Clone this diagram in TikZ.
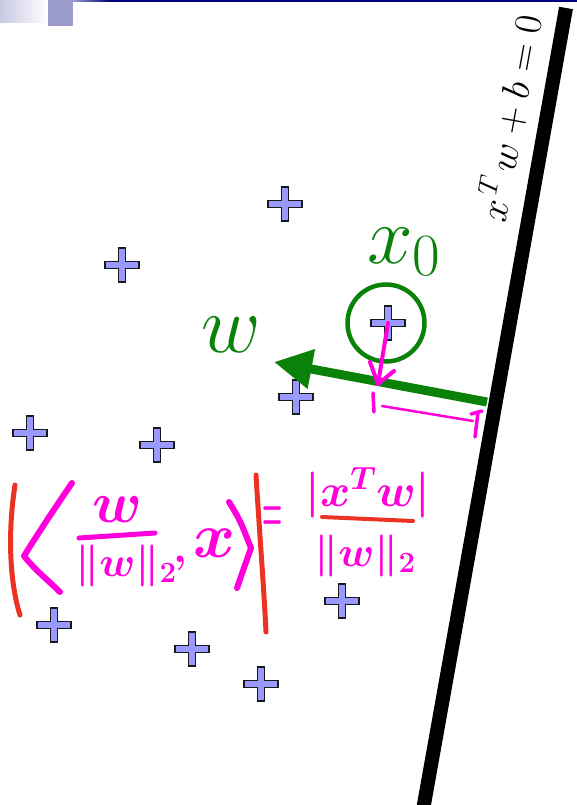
\RequirePackage{fix-cm}
\documentclass[tikz,border=0pt]{standalone}
\usepackage{graphicx}
\usetikzlibrary{arrows.meta}

\definecolor{markgreen}{RGB}{10,130,10}
\definecolor{inkpink}{RGB}{255,0,220}
\definecolor{inkred}{RGB}{236,50,35}
\definecolor{crossfill}{RGB}{153,153,255}
\definecolor{crossedge}{RGB}{25,25,25}
\definecolor{slidesq}{RGB}{156,156,204}
\definecolor{slidefade}{RGB}{200,200,226}
\definecolor{slidenavy}{RGB}{0,0,128}

\tikzset{
    plusmark/.pic={
        \coordinate (-c) at (0,0);
        \filldraw[fill=crossfill, draw=crossedge, line width=1.4pt]
            (-3.5,-17) -- (3.5,-17) -- (3.5,-3.5) -- (17,-3.5) -- (17,3.5) -- (3.5,3.5)
            -- (3.5,17) -- (-3.5,17) -- (-3.5,3.5) -- (-17,3.5) -- (-17,-3.5) -- (-3.5,-3.5) -- cycle;
    },
    hand/.style={draw=inkpink, line width=5pt, line cap=round, line join=round},
    redhand/.style={draw=inkred, line width=5pt, line cap=round, line join=round},
    handtext/.style={text=inkpink, inner sep=0pt},
    greentext/.style={text=markgreen, inner sep=0pt, anchor=base west, font=\fontsize{82}{82}\selectfont},
}

\begin{document}
\begin{tikzpicture}[x=1pt, y=-1pt]
    \useasboundingbox (0,0) rectangle (577,805);

    % slide corner
    \shade[left color=slidefade, right color=white] (0,0) rectangle (48,23);
    \fill[slidesq] (48,0) rectangle (73,26);
    \shade[left color=slidesq, right color=slidenavy] (73,0) rectangle (110,2);
    \fill[slidenavy] (110,0) rectangle (577,2);

    % separating hyperplane
    \coordinate (hbot) at (423,810);
    \coordinate (htop) at (566,8);
    \draw[line width=14pt] (hbot) -- (htop);
    \node[rotate=79.8, font=\fontsize{39}{39}\selectfont] (hlabel) at (509,118) {$x^{\mkern2mu T}\mkern3mu w+b=0$};

    % data points
    \foreach \px/\py [count=\i] in {285/204, 122/265, 388/323, 296/397, 30/433,
                                    157/445, 54/625, 342/601, 192/649, 261/684}
        \pic (p\i) at (\px,\py) {plusmark};

    % x_0 and normal vector
    \node[circle, draw=markgreen, line width=4.5pt, minimum size=77pt, inner sep=0pt] (ring) at (386,323) {};
    \node[greentext] (x0label) at (367,263) {$x_{\mbox{\fontsize{60}{60}\selectfont 0}}$};
    \node[greentext] (wlabel) at (201,352) {$w$};
    \coordinate (wtail) at (487,402);
    \coordinate (wtip) at (274,362);
    \draw[markgreen, line width=9pt, -{Triangle[length=38pt, width=38pt]}] (wtail) -- (wtip);

    % projection onto w
    \coordinate (foot) at (378,384);
    \draw[hand, line width=4pt] (p3-c) -- (foot);
    \draw[hand, line width=4pt] (370,362) -- (foot) -- (394,371);
    \draw[hand, line width=3.5pt] (373,393) -- (374,412);
    \draw[hand, line width=2.5pt] (382,406) -- (473,421);
    \draw[hand, line width=3.5pt] (471,414) -- (482,411) (478,412) -- (475,437);

    % |< w/||w||_2 , x >|
    \draw[redhand] (15,485) .. controls (8,530) and (9,580) .. (20,615);
    \draw[redhand] (256,475) .. controls (260,540) and (264,590) .. (266,632);
    \draw[hand, line width=6pt] (72,483) .. controls (50,515) and (32,543) .. (24,556)
        .. controls (35,570) and (50,582) .. (60,592);
    \draw[hand, line width=6pt] (229,502) .. controls (240,520) .. (251,548)
        .. controls (245,565) .. (237,588);
    \node[handtext, font=\fontsize{58}{58}\selectfont\boldmath] (numl) at (117,510) {$w$};
    \draw[hand] (79,538) -- (155,533);
    \node[handtext, font=\fontsize{42}{42}\selectfont\boldmath] (denl) at (126,566) {$\|w\|_2$};
    \node[handtext, anchor=base, font=\fontsize{42}{42}\selectfont\boldmath] (comma) at (180,562) {$,$};
    \node[handtext, font=\fontsize{64}{64}\selectfont\boldmath] (xvec) at (215,543) {$x$};

    % = |x^T w| / ||w||_2
    \node[handtext, font=\fontsize{64}{64}\selectfont\boldmath] (eq) at (273,519) {\scalebox{0.36}[1]{$=$}};
    \node[handtext, font=\fontsize{46}{46}\selectfont\boldmath] (numr) at (368,493) {$|x^{T}w|$};
    \draw[redhand, line width=4pt] (322,517) -- (413,521);
    \node[handtext, font=\fontsize{42}{42}\selectfont\boldmath] (denr) at (365,556) {$\|w\|_2$};
\end{tikzpicture}
\end{document}
